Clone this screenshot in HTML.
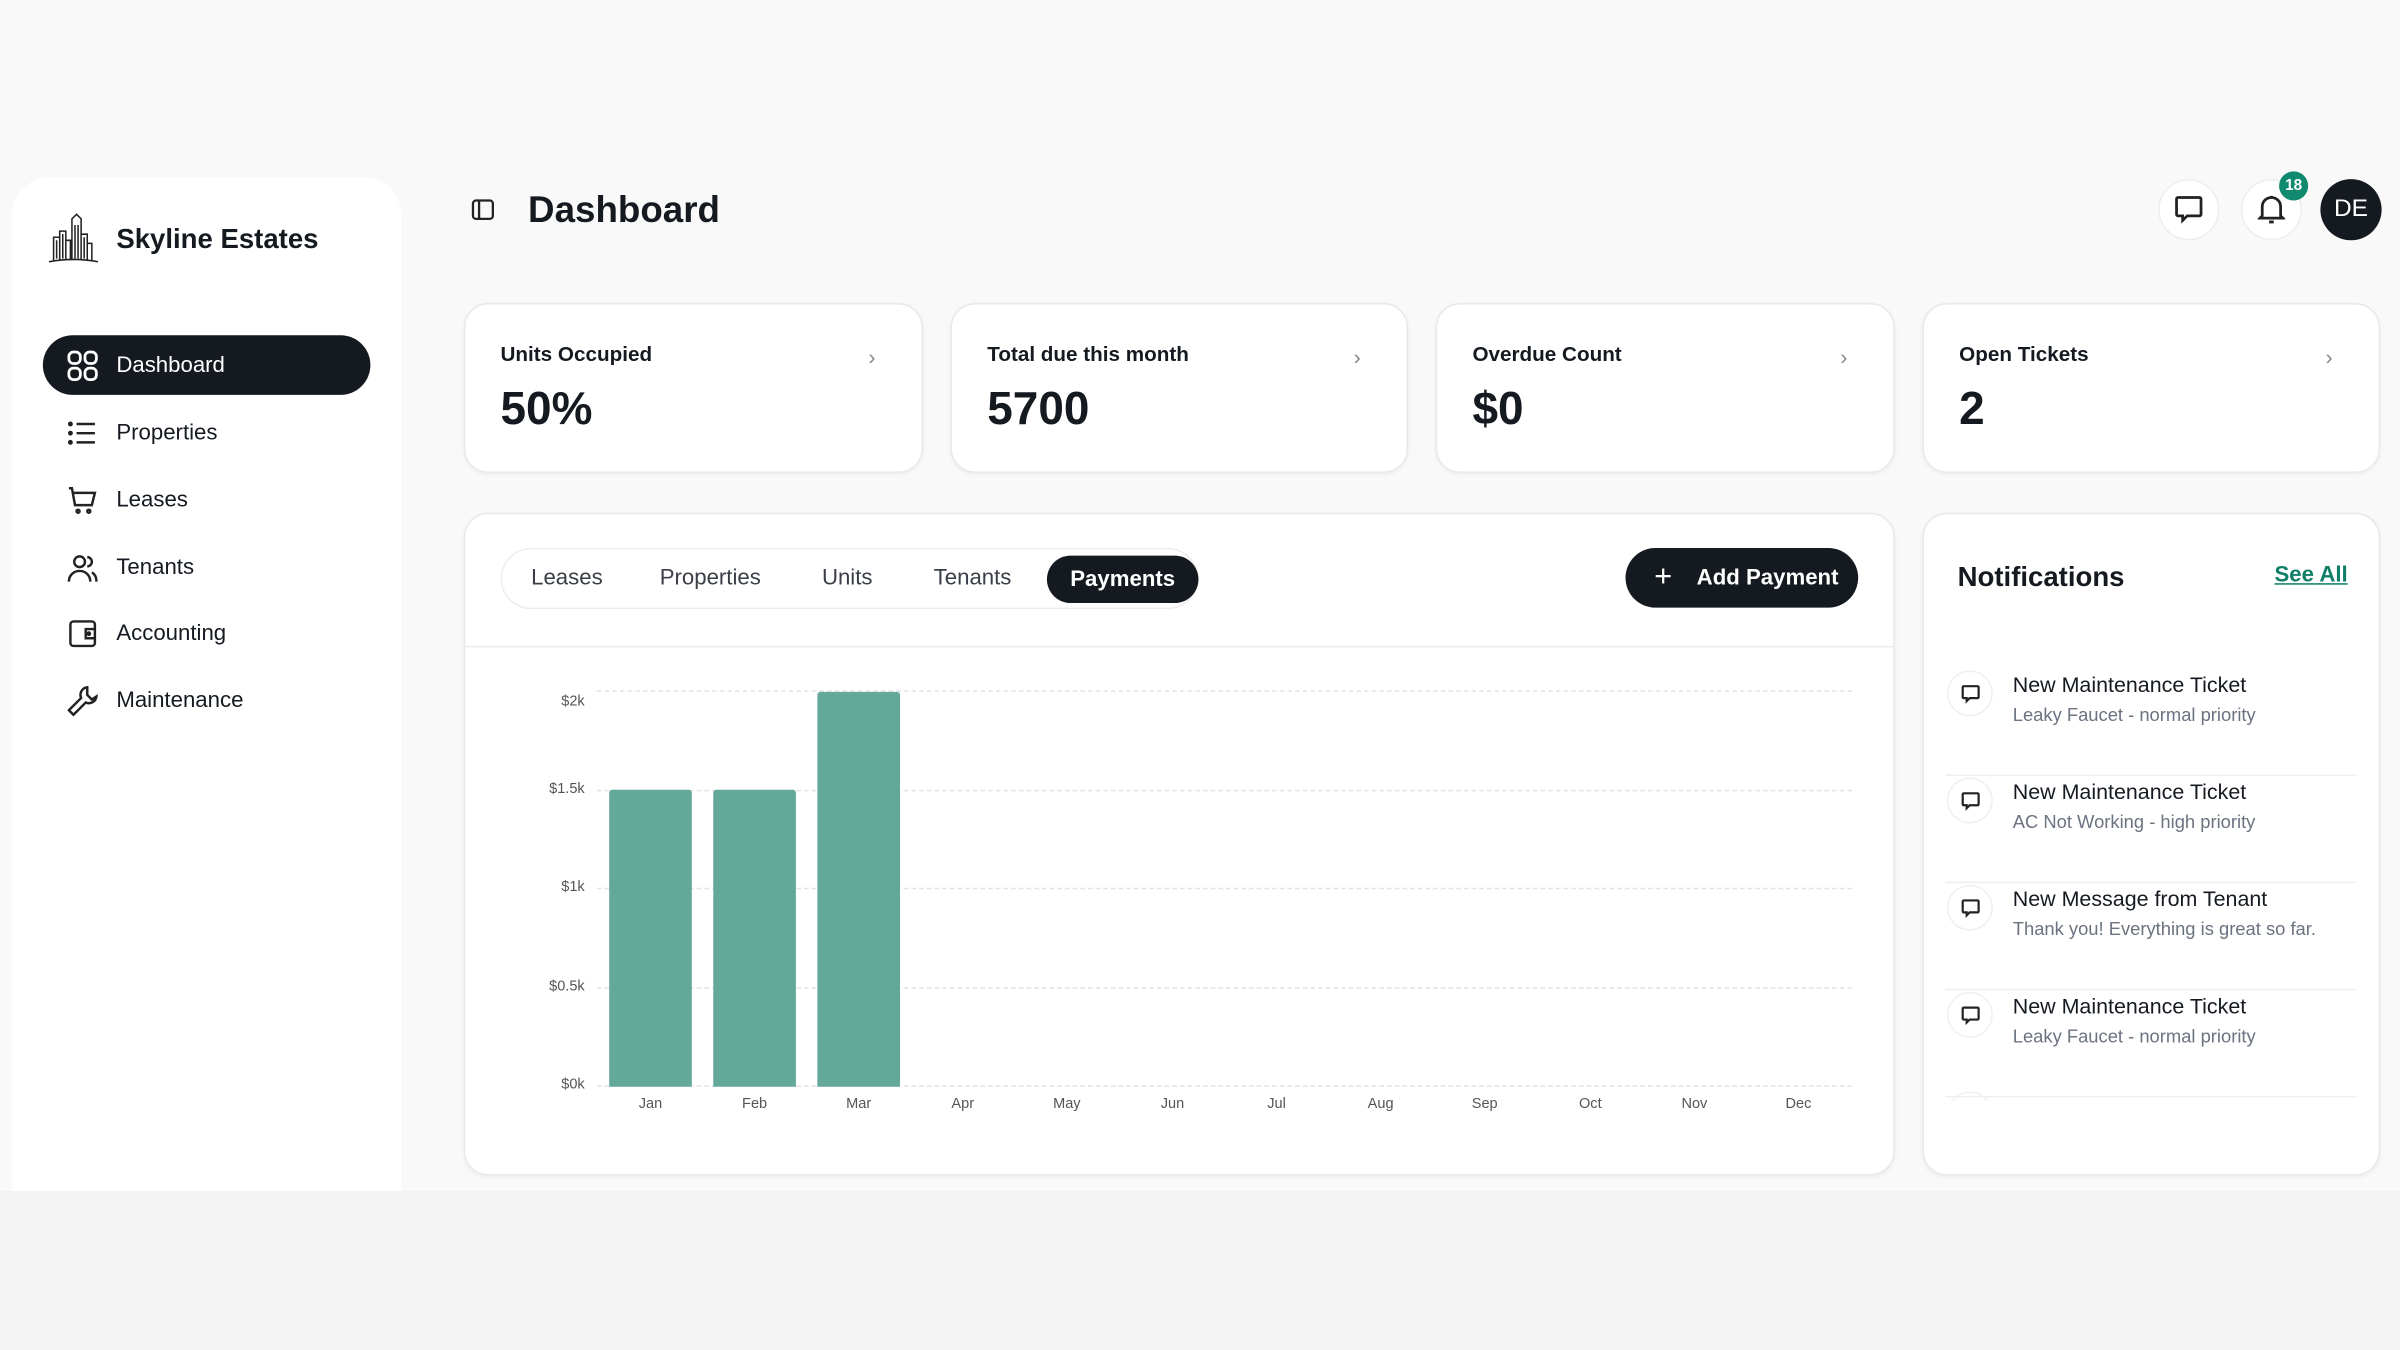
<!DOCTYPE html>
<html><head><meta charset="utf-8"><style>
*{box-sizing:border-box;margin:0;padding:0}
html,body{width:2400px;height:1350px;overflow:hidden;background:#f3f3f4}
#s{position:absolute;left:0;top:0;width:1568px;height:882px;transform:scale(1.530612);transform-origin:0 0;font-family:"Liberation Sans",sans-serif;color:#151a21}
.top{position:absolute;left:0;top:0;width:1568px;height:778px;background:#f9f9fa}
.abs{position:absolute}
.card{position:absolute;background:#fff;border:1px solid #e8e9ec;border-radius:16px;box-shadow:0 1px 3px rgba(0,0,0,.05)}
.nav{position:absolute;left:28px;width:214px;height:39px;display:flex;align-items:center;padding-left:16px;font-size:14.5px;font-weight:500}
.nav svg{width:20px;height:20px;margin-right:12px}
.st .t{position:absolute;left:23px;top:25px;font-size:13.5px;font-weight:600}
.st .v{position:absolute;left:23px;top:52px;font-size:30px;font-weight:700}
.st .c{position:absolute;right:30px;top:26px;color:#888;font-size:14px}
.tab{position:absolute;top:370px;font-size:14.5px;color:#3a3f47}
.ylab{position:absolute;right:1186px;font-size:9.5px;color:#555;text-align:right}
.mlab{position:absolute;top:716px;font-size:9.5px;color:#555;width:40px;text-align:center}
.grid{position:absolute;left:390px;width:820px;border-top:1px dashed #e3e4e6}
.bar{position:absolute;background:#64a89a;width:54px;border-radius:2px 2px 0 0}
.ni{position:absolute;left:1271px;width:269px;height:70px;border-bottom:1px solid #eeeff1}
.ni .ic{position:absolute;left:1px;top:1px;width:30px;height:30px;border:1px solid #f0f0f2;border-radius:50%;display:flex;align-items:center;justify-content:center}
.ni .a{position:absolute;left:44px;top:2px;font-size:14px;font-weight:500;white-space:nowrap}
.ni .b{position:absolute;left:44px;top:23px;font-size:12px;color:#6b7280;white-space:nowrap}
.circ{position:absolute;width:40px;height:40px;border-radius:50%;background:#fff;border:1px solid #eee;display:flex;align-items:center;justify-content:center}
</style></head><body><div id="s">
<div class="top"></div>
<div class="abs" style="left:8px;top:116px;width:254px;height:662px;background:#fff;border-radius:24px 24px 0 0"></div>
<svg class="abs" style="left:31px;top:139px" width="34" height="34" viewBox="0 0 34 34" fill="none" stroke="#222" stroke-width="1"><path d="M1 32 Q17 29 33 32"/><path d="M4 31V16h4v15M8 31V12h4v19M12 31V18h3v13M16 31V4l3-3 3 3v27M22 31V14h4v17M26 31V20h3v11"/><path d="M6 18v12M10 14v16M18 8v22M20 8v22M24 16v14"/></svg>
<div class="abs" style="left:76px;top:146px;font-size:18px;font-weight:700">Skyline Estates</div>
<div class="nav" style="top:219px;background:#151a21;color:#fff;border-radius:20px"><svg viewBox="0 0 20 20" fill="none" stroke="#fff" stroke-width="1.8"><rect x="1" y="1" width="7.5" height="7.5" rx="3"/><rect x="11.5" y="1" width="7.5" height="7.5" rx="3"/><rect x="1" y="11.5" width="7.5" height="7.5" rx="3"/><rect x="11.5" y="11.5" width="7.5" height="7.5" rx="3"/></svg>Dashboard</div>
<div class="nav" style="top:263px"><svg viewBox="0 0 20 20" fill="none" stroke="#222" stroke-width="1.6"><path d="M6 4h12M6 10h12M6 16h12"/><circle cx="2" cy="4" r=".8"/><circle cx="2" cy="10" r=".8"/><circle cx="2" cy="16" r=".8"/></svg>Properties</div>
<div class="nav" style="top:307px"><svg viewBox="0 0 20 20" fill="none" stroke="#222" stroke-width="1.6"><path d="M1 2h2l2 11h11l2-8H4"/><circle cx="7" cy="17" r="1"/><circle cx="14" cy="17" r="1"/></svg>Leases</div>
<div class="nav" style="top:351px"><svg viewBox="0 0 20 20" fill="none" stroke="#222" stroke-width="1.6"><circle cx="8" cy="6" r="3.5"/><path d="M1 19c0-4 3-7 7-7s7 3 7 7M13 3a3 3 0 0 1 0 6M16 13c2 1 3 3 3 6"/></svg>Tenants</div>
<div class="nav" style="top:394px"><svg viewBox="0 0 20 20" fill="none" stroke="#222" stroke-width="1.6"><rect x="2" y="2" width="16" height="16" rx="2"/><path d="M18 7h-6v6h6"/><circle cx="14" cy="10" r=".8"/></svg>Accounting</div>
<div class="nav" style="top:438px"><svg viewBox="0 0 20 20" fill="none" stroke="#222" stroke-width="1.6"><path d="M13 1a5 5 0 0 0-4 7L1 16l3 3 8-8a5 5 0 0 0 7-4l-3 2-3-3z"/></svg>Maintenance</div>

<svg class="abs" style="left:308px;top:130px" width="15" height="14" viewBox="0 0 15 14" fill="none" stroke="#222" stroke-width="1.5"><rect x="1" y="1" width="13" height="12" rx="2"/><path d="M5 1v12"/></svg>
<div class="abs" style="left:345px;top:124px;font-size:24px;font-weight:700">Dashboard</div>
<div class="circ" style="left:1410px;top:117px"><svg width="20" height="20" viewBox="0 0 20 20" fill="none" stroke="#222" stroke-width="1.8"><path d="M3 2h14a1 1 0 0 1 1 1v10a1 1 0 0 1-1 1H9l-3 3v-3H3a1 1 0 0 1-1-1V3a1 1 0 0 1 1-1z"/></svg></div>
<div class="circ" style="left:1464px;top:117px"><svg width="18" height="20" viewBox="0 0 18 20" fill="none" stroke="#222" stroke-width="1.8"><path d="M3 14V8a6 6 0 0 1 12 0v6l1.5 1.5h-15zM7.5 18h3M9 1v1"/></svg></div>
<div class="abs" style="left:1489px;top:112px;width:19px;height:19px;border-radius:50%;background:#0f8a6f;color:#fff;font-size:10px;font-weight:700;display:flex;align-items:center;justify-content:center">18</div>
<div class="abs" style="left:1516px;top:117px;width:40px;height:40px;border-radius:50%;background:#151a21;color:#fff;font-size:16px;display:flex;align-items:center;justify-content:center">DE</div>

<div class="card st" style="left:303px;top:198px;width:300px;height:111px"><div class="t">Units Occupied</div><div class="v">50%</div><div class="c">›</div></div>
<div class="card st" style="left:621px;top:198px;width:299px;height:111px"><div class="t">Total due this month</div><div class="v">5700</div><div class="c">›</div></div>
<div class="card st" style="left:938px;top:198px;width:300px;height:111px"><div class="t">Overdue Count</div><div class="v">$0</div><div class="c">›</div></div>
<div class="card st" style="left:1256px;top:198px;width:299px;height:111px"><div class="t">Open Tickets</div><div class="v">2</div><div class="c">›</div></div>

<div class="card" style="left:303px;top:335px;width:935px;height:433px"></div>
<div class="abs" style="left:303px;top:422px;width:935px;border-top:1px solid #ececef"></div>
<div class="abs" style="left:327px;top:358px;width:456px;height:40px;border:1px solid #ededf0;border-radius:20px"></div>
<div class="tab" style="left:347px">Leases</div>
<div class="tab" style="left:431px">Properties</div>
<div class="tab" style="left:537px">Units</div>
<div class="tab" style="left:610px">Tenants</div>
<div class="abs" style="left:684px;top:363px;width:99px;height:31px;border-radius:16px;background:#151a21;color:#fff;font-size:14.5px;font-weight:700;display:flex;align-items:center;justify-content:center">Payments</div>
<div class="abs" style="left:1062px;top:358px;width:152px;height:39px;border-radius:20px;background:#151a21;color:#fff;font-size:14.5px;font-weight:700;display:flex;align-items:center;justify-content:center;padding-left:6px"><span style="font-weight:400;font-size:20px;margin-right:16px">+</span>Add Payment</div>

<div class="grid" style="top:451px"></div><div class="grid" style="top:516px"></div><div class="grid" style="top:580px"></div><div class="grid" style="top:645px"></div><div class="grid" style="top:709px"></div>
<div class="ylab" style="top:453px">$2k</div><div class="ylab" style="top:510px">$1.5k</div><div class="ylab" style="top:574px">$1k</div><div class="ylab" style="top:639px">$0.5k</div><div class="ylab" style="top:703px">$0k</div>
<div class="bar" style="left:398px;top:516px;height:194px"></div>
<div class="bar" style="left:466px;top:516px;height:194px"></div>
<div class="bar" style="left:534px;top:452px;height:258px"></div>
<div class="mlab" style="left:405px">Jan</div><div class="mlab" style="left:473px">Feb</div><div class="mlab" style="left:541px">Mar</div><div class="mlab" style="left:609px">Apr</div><div class="mlab" style="left:677px">May</div><div class="mlab" style="left:746px">Jun</div><div class="mlab" style="left:814px">Jul</div><div class="mlab" style="left:882px">Aug</div><div class="mlab" style="left:950px">Sep</div><div class="mlab" style="left:1019px">Oct</div><div class="mlab" style="left:1087px">Nov</div><div class="mlab" style="left:1155px">Dec</div>

<div class="card" style="left:1256px;top:335px;width:299px;height:433px;overflow:hidden">
<div class="abs" style="left:15px;top:377px;width:30px;height:30px;border:1px solid #f0f0f2;border-radius:50%"></div></div>
<div class="abs" style="left:1279px;top:367px;font-size:18px;font-weight:700">Notifications</div>
<div class="abs" style="left:1486px;top:368px;font-size:14.5px;font-weight:700;color:#0f7f68;text-decoration:underline">See All</div>
<div class="ni" style="top:437px"><div class="ic"><svg width="13" height="13" viewBox="0 0 20 20" fill="none" stroke="#222" stroke-width="2.2"><path d="M3 2h14a1 1 0 0 1 1 1v10a1 1 0 0 1-1 1H9l-3 3v-3H3a1 1 0 0 1-1-1V3a1 1 0 0 1 1-1z"/></svg></div><div class="a">New Maintenance Ticket</div><div class="b">Leaky Faucet - normal priority</div></div>
<div class="ni" style="top:507px"><div class="ic"><svg width="13" height="13" viewBox="0 0 20 20" fill="none" stroke="#222" stroke-width="2.2"><path d="M3 2h14a1 1 0 0 1 1 1v10a1 1 0 0 1-1 1H9l-3 3v-3H3a1 1 0 0 1-1-1V3a1 1 0 0 1 1-1z"/></svg></div><div class="a">New Maintenance Ticket</div><div class="b">AC Not Working - high priority</div></div>
<div class="ni" style="top:577px"><div class="ic"><svg width="13" height="13" viewBox="0 0 20 20" fill="none" stroke="#222" stroke-width="2.2"><path d="M3 2h14a1 1 0 0 1 1 1v10a1 1 0 0 1-1 1H9l-3 3v-3H3a1 1 0 0 1-1-1V3a1 1 0 0 1 1-1z"/></svg></div><div class="a">New Message from Tenant</div><div class="b">Thank you! Everything is great so far.</div></div>
<div class="ni" style="top:647px"><div class="ic"><svg width="13" height="13" viewBox="0 0 20 20" fill="none" stroke="#222" stroke-width="2.2"><path d="M3 2h14a1 1 0 0 1 1 1v10a1 1 0 0 1-1 1H9l-3 3v-3H3a1 1 0 0 1-1-1V3a1 1 0 0 1 1-1z"/></svg></div><div class="a">New Maintenance Ticket</div><div class="b">Leaky Faucet - normal priority</div></div>
<div class="abs" style="left:1257px;top:719px;width:297px;height:48px;background:#fff;border-radius:0 0 15px 15px"></div>
</div></body></html>
